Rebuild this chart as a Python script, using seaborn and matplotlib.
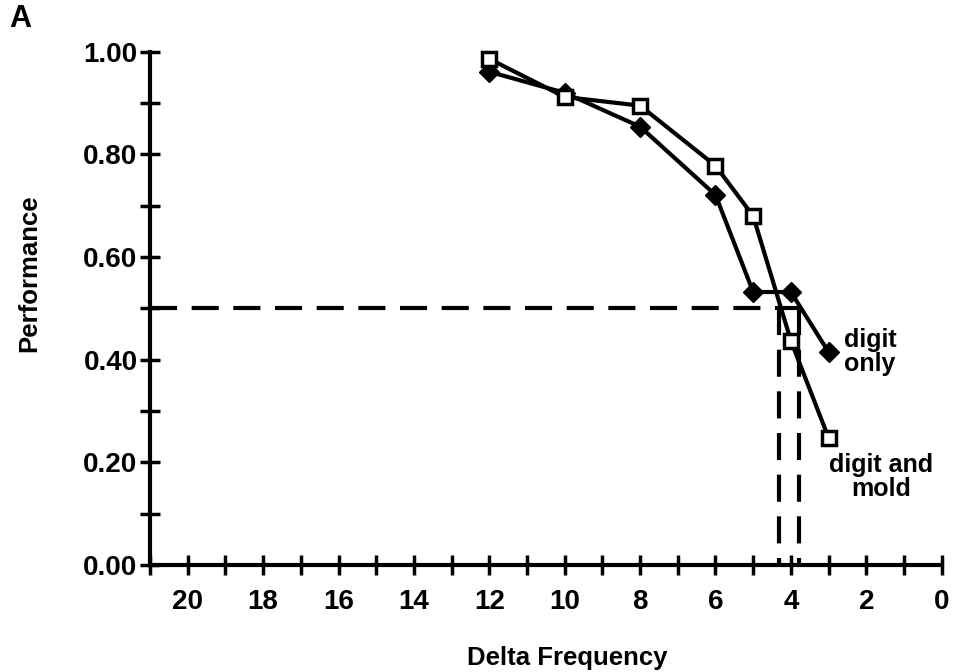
import matplotlib
matplotlib.use("Agg")
import matplotlib.pyplot as plt
import seaborn as sns
import pandas as pd
from matplotlib.ticker import MultipleLocator, FixedLocator

# Data
delta_freq = [12, 10, 8, 6, 5, 4, 3]
digit_only = [0.961, 0.920, 0.854, 0.721, 0.532, 0.532, 0.415]
digit_and_mold = [0.986, 0.912, 0.895, 0.778, 0.680, 0.437, 0.248]
threshold = 0.50
thresh_digit_only = 3.79
thresh_digit_mold = 4.32

x_ticks = [20, 18, 16, 14, 12, 10, 8, 6, 4, 2, 0]
y_ticks = [0.0, 0.2, 0.4, 0.6, 0.8, 1.0]

sns.set_theme(style="ticks")
plt.rcParams["font.family"] = ["Liberation Sans", "DejaVu Sans"]
plt.rcParams["font.weight"] = "bold"
plt.rcParams["text.color"] = "black"
plt.rcParams["axes.labelcolor"] = "black"
plt.rcParams["xtick.color"] = "black"
plt.rcParams["ytick.color"] = "black"

W, H = 956, 672
fig = plt.figure(figsize=(W / 100, H / 100), dpi=100)
ax = fig.add_axes([0.157, 0.159, 0.828, 0.764])

df1 = pd.DataFrame({"x": delta_freq, "y": digit_only})
df2 = pd.DataFrame({"x": delta_freq, "y": digit_and_mold})

lw = 3.0
sns.lineplot(data=df1, x="x", y="y", ax=ax, color="black", lw=lw,
             marker="D", markersize=10, markerfacecolor="black",
             markeredgecolor="black", markeredgewidth=1, clip_on=False, zorder=3)
sns.lineplot(data=df2, x="x", y="y", ax=ax, color="black", lw=lw,
             marker="s", markersize=10, markerfacecolor="white",
             markeredgecolor="black", markeredgewidth=2.5, clip_on=False, zorder=4)

dash = (0, (6.5, 3.5))
ax.plot([21, thresh_digit_only], [threshold, threshold], color="black",
        lw=lw, linestyle=dash, clip_on=False, zorder=2)
ax.plot([thresh_digit_mold, thresh_digit_mold], [threshold, 0], color="black",
        lw=lw, linestyle=dash, clip_on=False, zorder=2)
ax.plot([thresh_digit_only, thresh_digit_only], [threshold, 0], color="black",
        lw=lw, linestyle=dash, clip_on=False, zorder=2)

ax.set_xlim(21, 0)
ax.set_ylim(0, 1.0)
ax.xaxis.set_major_locator(FixedLocator(x_ticks))
ax.xaxis.set_minor_locator(MultipleLocator(1))
ax.yaxis.set_major_locator(FixedLocator(y_ticks))
ax.yaxis.set_minor_locator(MultipleLocator(0.1))
ax.set_xticklabels([str(v) for v in x_ticks])
ax.set_yticklabels([f"{v:.2f}" for v in y_ticks])

for side in ["top", "right"]:
    ax.spines[side].set_visible(False)
for side in ["left", "bottom"]:
    ax.spines[side].set_linewidth(3)
    ax.spines[side].set_color("black")

ax.tick_params(axis="both", which="both", direction="inout", length=14,
               width=2.5, color="black", labelsize=20,
               bottom=True, left=True, top=False, right=False)
ax.tick_params(axis="x", which="major", pad=10)
ax.tick_params(axis="y", which="major", pad=2)
for lab in ax.get_xticklabels() + ax.get_yticklabels():
    lab.set_fontweight("bold")

ax.set_xlabel("Delta Frequency", fontsize=18.5, fontweight="bold")
ax.set_ylabel("Performance", fontsize=18.5, fontweight="bold")
ax.xaxis.set_label_coords(0.527, -0.158)
ax.yaxis.set_label_coords(-0.137, 0.569)

fig.text(870 / W, 1 - 352 / H, "digit\nonly", fontsize=18,
         fontweight="bold", ha="center", va="center", linespacing=1.0)
fig.text(881 / W, 1 - 477 / H, "digit and\nmold", fontsize=18,
         fontweight="bold", ha="center", va="center", linespacing=1.0)
fig.text(0.010, 1 - 19 / H, "A", fontsize=22, fontweight="heavy", ha="left", va="center")

fig.patch.set_facecolor("white")
fig.savefig("out.png", dpi=100)
